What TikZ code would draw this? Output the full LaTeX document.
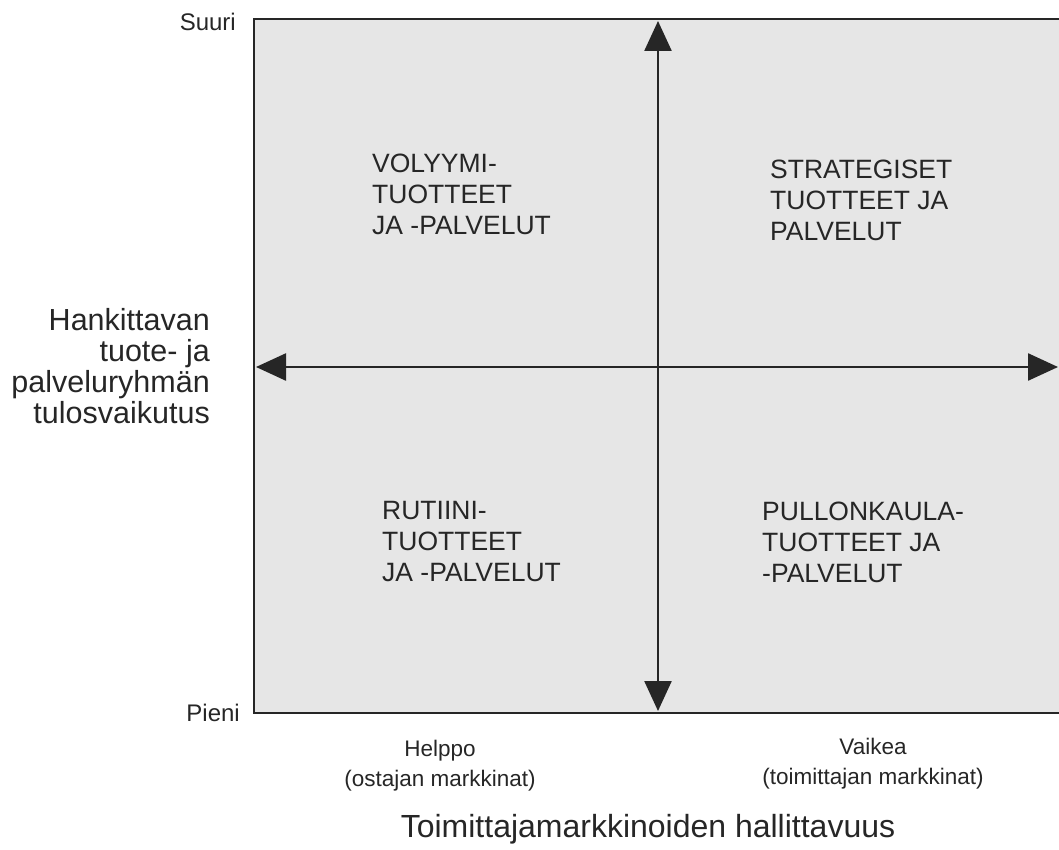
\documentclass[tikz,border=0pt]{standalone}
\usepackage{fontspec}
\setmainfont{Liberation Sans}
\usetikzlibrary{arrows.meta}
\definecolor{inkgray}{HTML}{262626}
\definecolor{papergray}{HTML}{E6E6E6}

\begin{document}
\begin{tikzpicture}[x=1pt,y=-1pt,
  axis/.style={draw=inkgray, line width=2.5pt,
    {Triangle[length=30pt,width=27pt]}-{Triangle[length=30pt,width=27pt]}},
  quad/.style={anchor=west, align=left, text=inkgray, inner sep=0pt,
    font=\fontsize{26.5}{31}\selectfont},
  levelmark/.style={anchor=east, text=inkgray, inner sep=0pt,
    font=\fontsize{24}{26}\selectfont},
  market/.style={align=center, text=inkgray, inner sep=0pt,
    font=\fontsize{22.5}{30}\selectfont}]
\useasboundingbox (0,0) rectangle (1059,850);

\coordinate (NW) at (254,19);
\coordinate (SW) at (254,713);
\coordinate (NE) at (1059,19);
\coordinate (SE) at (1059,713);
\coordinate (T) at (658,21);
\coordinate (B) at (658,711);
\coordinate (L) at (256,367);
\coordinate (R) at (1058,367);

\fill[papergray] (NW) rectangle (SE);
\draw[inkgray, line width=2.8pt] (NE) -- (NW) -- (SW) -- (SE);

\draw[axis] (T) -- (B);
\draw[axis] (L) -- (R);

\node[quad] (volyymi) at (372,194) {VOLYYMI-\\TUOTTEET\\JA -PALVELUT};
\node[quad] (strateg) at (770,200) {STRATEGISET\\TUOTTEET JA\\PALVELUT};
\node[quad] (rutiini) at (382,542) {RUTIINI-\\TUOTTEET\\JA -PALVELUT};
\node[quad] (pullon) at (762,542) {PULLONKAULA-\\TUOTTEET JA\\-PALVELUT};

\node[levelmark] (suuri) at (236,22) {Suuri};
\node[levelmark] (pieni) at (240,713) {Pieni};

\node[anchor=east, align=right, text=inkgray, inner sep=0pt,
  font=\fontsize{30.5}{31}\selectfont] (tulos) at (210,366)
  {Hankittavan\\tuote- ja\\palveluryhmän\\tulosvaikutus};

\node[market] (helppo) at (440,766) {Helppo\\(ostajan markkinat)};
\node[market] (vaikea) at (873,764) {Vaikea\\(toimittajan markkinat)};

\node[text=inkgray, inner sep=0pt, font=\fontsize{32}{34}\selectfont]
  (hallit) at (648,829) {Toimittajamarkkinoiden hallittavuus};
\end{tikzpicture}
\end{document}
